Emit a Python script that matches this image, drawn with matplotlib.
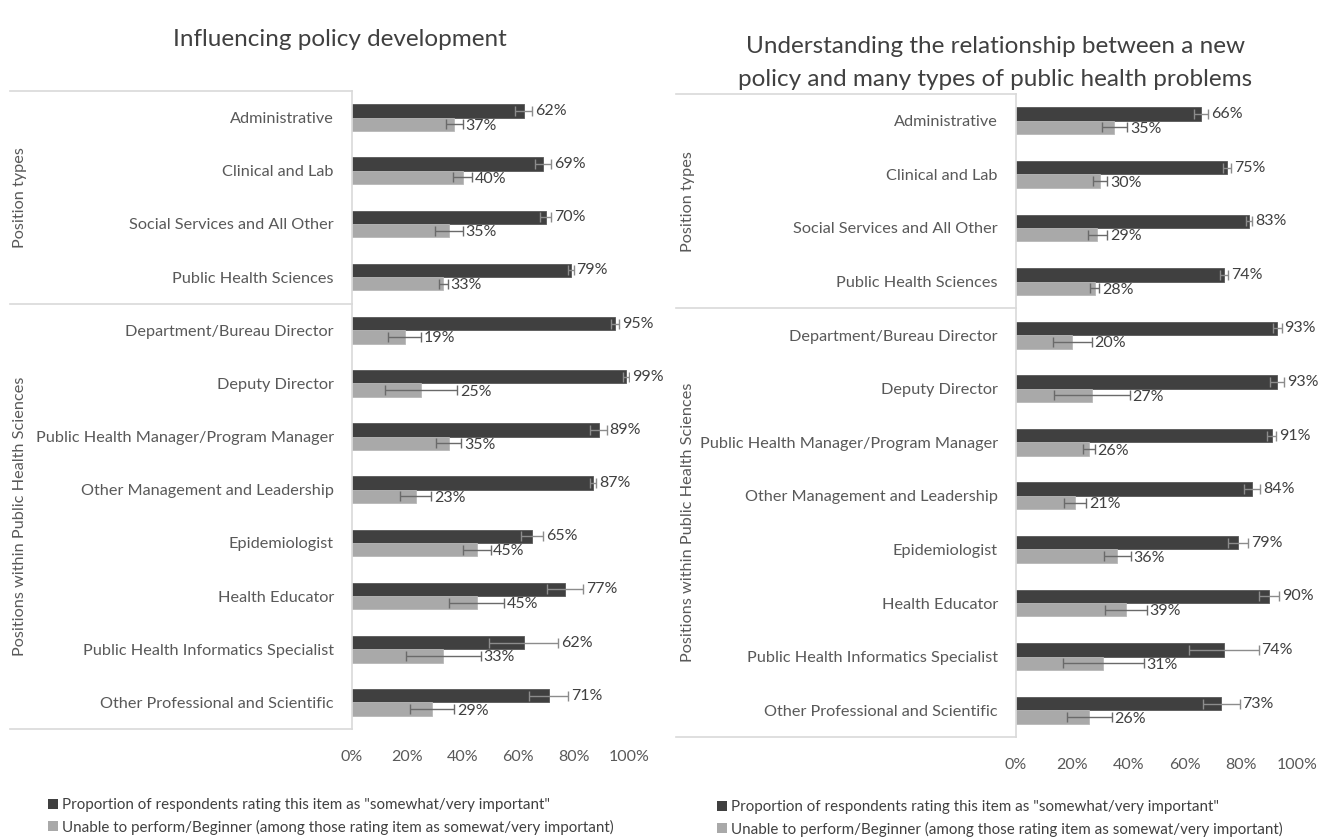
import matplotlib
matplotlib.use("Agg")
import matplotlib.pyplot as plt
from matplotlib.patches import Patch
import matplotlib.transforms as mtransforms

# ---------------- data ----------------
categories = [
    "Administrative", "Clinical and Lab", "Social Services and All Other",
    "Public Health Sciences", "Department/Bureau Director", "Deputy Director",
    "Public Health Manager/Program Manager", "Other Management and Leadership",
    "Epidemiologist", "Health Educator", "Public Health Informatics Specialist",
    "Other Professional and Scientific",
]
group_labels = ["Position types", "Positions within Public Health Sciences"]
group_sizes = [4, 8]

left_title = "Influencing policy development"
left_important = [62, 69, 70, 79, 95, 99, 89, 87, 65, 77, 62, 71]
left_important_err = [3, 3, 2, 1, 1.5, 1, 3, 1.2, 4, 6.5, 12.5, 7]
left_beginner = [37, 40, 35, 33, 19, 25, 35, 23, 45, 45, 33, 29]
left_beginner_err = [3, 3.5, 5, 1.5, 6, 13, 4.5, 5.5, 5, 10, 13.5, 8]

right_title = ("Understanding the relationship between a new\n"
               "policy and many types of public health problems")
right_important = [66, 75, 83, 74, 93, 93, 91, 84, 79, 90, 74, 73]
right_important_err = [2.5, 1.5, 1, 1.5, 1.5, 2.5, 1.5, 3, 3.5, 3.7, 12.3, 6.6]
right_beginner = [35, 30, 29, 28, 20, 27, 26, 21, 36, 39, 31, 26]
right_beginner_err = [4.5, 2.5, 3.5, 1.5, 7, 13.5, 2, 4, 4.8, 7.5, 14.4, 8]

x_ticks = [0, 20, 40, 60, 80, 100]
legend_labels = [
    'Proportion of respondents rating this item as "somewhat/very important"',
    "Unable to perform/Beginner (among those rating item as somewat/very important)",
]

# ---------------- style ----------------
FONT = ["Lato", "DejaVu Sans"]
plt.rcParams["font.family"] = FONT
DARK = "#404040"
LIGHT = "#a9a9a9"
TXT = "#595959"
LINE = "#d9d9d9"

W, H = 1340, 840
fig = plt.figure(figsize=(W / 100, H / 100), dpi=100)


def fx(px):
    return px / W


def fy(py):
    return 1 - py / H


def panel(rect_px, imp, imp_err, beg, beg_err, box_left_px, glabel_x_px):
    x0, top, width, bottom = rect_px
    ax = fig.add_axes([fx(x0), fy(bottom), width / W, (bottom - top) / H])
    n = len(categories)
    ys = list(range(n))
    h = 0.25
    y_dark = [y - h / 2 for y in ys]
    y_light = [y + h / 2 for y in ys]
    ax.barh(y_dark, imp, height=h, color=DARK, edgecolor="#585858", linewidth=0.6)
    ax.barh(y_light, beg, height=h, color=LIGHT, edgecolor="#b8b8b8", linewidth=0.6)
    ax.errorbar(imp, y_dark, xerr=imp_err, fmt="none", ecolor="#8c8c8c",
                elinewidth=1, capsize=3.5, capthick=1)
    ax.errorbar(beg, y_light, xerr=beg_err, fmt="none", ecolor="#6a6a6a",
                elinewidth=1, capsize=3.5, capthick=1)
    for v, e, y in zip(imp, imp_err, y_dark):
        ax.text(v + e + 1.0, y, f"{v}%", va="center", ha="left",
                fontsize=11.5, color="#404040")
    for v, e, y in zip(beg, beg_err, y_light):
        ax.text(v + e + 1.0, y + 0.03, f"{v}%", va="center", ha="left",
                fontsize=11.5, color="#404040")
    ax.set_xlim(0, 100)
    ax.set_ylim(n - 0.5, -0.5)
    ax.set_yticks(ys)
    ax.set_yticklabels(categories, fontsize=11.7, color=TXT)
    ax.set_xticks(x_ticks)
    ax.set_xticklabels([f"{t}%" for t in x_ticks], fontsize=11.5, color=TXT)
    ax.tick_params(axis="both", length=0)
    ax.tick_params(axis="y", pad=13)
    ax.tick_params(axis="x", pad=15)
    for s in ["top", "right", "bottom"]:
        ax.spines[s].set_visible(False)
    ax.spines["left"].set_color(LINE)
    ax.spines["left"].set_linewidth(1.2)
    # category-group box
    trans = mtransforms.blended_transform_factory(ax.transAxes, ax.transData)
    xl = (box_left_px - x0) / width
    bounds = [-0.5]
    for s in group_sizes:
        bounds.append(bounds[-1] + s)
    for b in bounds:
        ax.plot([xl, 0], [b, b], transform=trans, color=LINE, lw=1.2,
                clip_on=False)
    gx = (glabel_x_px - x0) / width
    for lab, a, b in zip(group_labels, bounds[:-1], bounds[1:]):
        ax.text(gx, (a + b) / 2, lab, transform=trans, rotation=90,
                ha="center", va="center", fontsize=11.7, color=TXT)
    return ax


panel((352, 91, 277, 729), left_important, left_important_err,
      left_beginner, left_beginner_err, 10, 20)
panel((1016, 94, 281, 737), right_important, right_important_err,
      right_beginner, right_beginner_err, 676, 688)

fig.text(fx(340), fy(40), left_title, ha="center", va="center",
         fontsize=17.5, color="#404040")
fig.text(fx(995), fy(63), right_title, ha="center", va="center",
         fontsize=17.5, color="#404040", linespacing=1.7)

handles = [Patch(facecolor=DARK, edgecolor="none"),
           Patch(facecolor=LIGHT, edgecolor="none")]
for lx, ly in [(42, 792), (711, 794)]:
    fig.legend(handles, legend_labels, loc="upper left",
               bbox_to_anchor=(fx(lx), fy(ly)), frameon=False, fontsize=10.9,
               handlelength=0.65, handleheight=0.65, handletextpad=0.3,
               labelspacing=0.5, labelcolor="#404040", borderaxespad=0)

fig.savefig("out.png", dpi=100, facecolor="white")
